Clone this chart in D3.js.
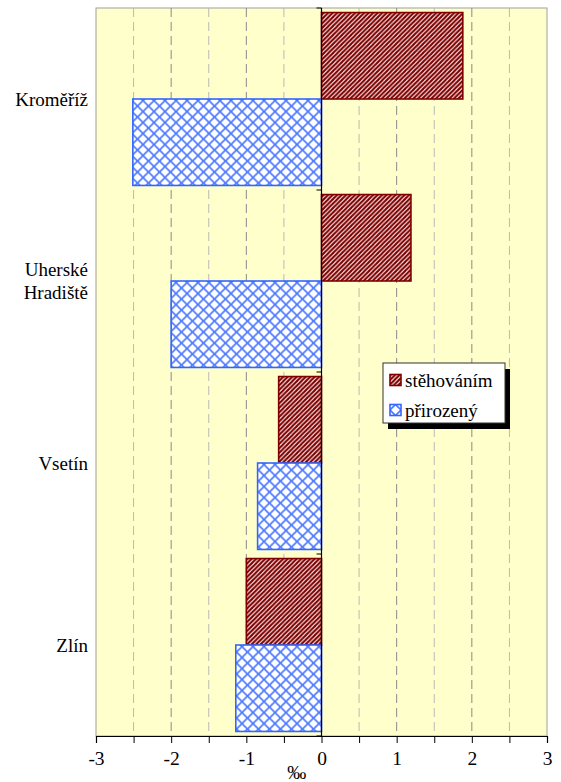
<!DOCTYPE html>
<html>
<head>
<meta charset="utf-8">
<script src="https://cdn.jsdelivr.net/npm/d3@7"></script>
<style>
  body { margin: 0; background: #fff; }
  svg { display: block; }
  svg text { font-family: "Liberation Serif", "Tinos", "DejaVu Serif", "Noto Serif", serif !important; fill: #000; }
</style>
</head>
<body>
<svg id="chart" width="561" height="782"></svg>
<script>
// data
const categories = ["Kroměříž", "Uherské Hradiště", "Vsetín", "Zlín"];
const seriesNames = ["stěhováním", "přirozený"];
const stehovanim = [1.88, 1.19, -0.57, -1.0];
const prirozeny = [-2.51, -2.0, -0.85, -1.14];
const xTicks = [-3, -2, -1, 0, 1, 2, 3];
const unitLabel = "‰";

const width = 561, height = 782;
const margin = { top: 8, right: 14, bottom: 46, left: 96 };
const serif = "'Liberation Serif', 'Tinos', 'DejaVu Serif', serif";

let svg = d3.select("#chart");
let defs = svg.append("defs");

// wide upward diagonal for stěhováním
let p1 = defs
  .append("pattern")
  .attr("id", "stripes")
  .attr("patternUnits", "userSpaceOnUse")
  .attr("width", 4.5)
  .attr("height", 4.5);
p1.append("rect").attr("width", 4.5).attr("height", 4.5).attr("fill", "#fff");
p1.append("path")
  .attr("d", "M-1,1 L1,-1 M0,4.5 L4.5,0 M3.5,5.5 L5.5,3.5")
  .attr("stroke", "#800000")
  .attr("stroke-width", 2.1);

// diagonal lattice for přirozený
let p2 = defs
  .append("pattern")
  .attr("id", "lattice")
  .attr("patternUnits", "userSpaceOnUse")
  .attr("width", 11)
  .attr("height", 11);
p2.append("rect").attr("width", 11).attr("height", 11).attr("fill", "#fff");
p2.append("path")
  .attr("d", "M0,0 L11,11 M11,0 L0,11")
  .attr("stroke", "#4d79ff")
  .attr("stroke-width", 1.6);

const fills = ["url(#stripes)", "url(#lattice)"];
const strokes = ["#800000", "#3366ff"];

let x = d3
  .scaleLinear()
  .domain([-3, 3])
  .range([margin.left, width - margin.right]);

let y = d3
  .scaleBand()
  .domain(categories)
  .range([margin.top, height - margin.bottom])
  .paddingInner(0.05)
  .paddingOuter(0.025);

let ySub = d3
  .scaleBand()
  .domain(seriesNames)
  .range([0, y.bandwidth()]);

// plot background
svg
  .append("rect")
  .attr("x", x(-3))
  .attr("y", margin.top)
  .attr("width", x(3) - x(-3))
  .attr("height", height - margin.bottom - margin.top)
  .attr("fill", "#ffffcc")
  .attr("stroke", "#a0a0a0")
  .attr("stroke-width", 1);

// dashed gridlines every 0.5
let gridVals = d3.range(-2.5, 3, 0.5).filter(function (v) {
  return v !== 0;
});
svg
  .append("g")
  .selectAll("line")
  .data(gridVals)
  .enter()
  .append("line")
  .attr("x1", function (d) { return x(d); })
  .attr("x2", function (d) { return x(d); })
  .attr("y1", margin.top)
  .attr("y2", height - margin.bottom)
  .attr("stroke", function (d) {
    return Number.isInteger(d) ? "#8a8a8a" : "#b8b8b8";
  })
  .attr("stroke-width", 1)
  .attr("stroke-dasharray", "9,5");

// bars
let rows = categories.map(function (c, i) {
  return { cat: c, values: [stehovanim[i], prirozeny[i]] };
});

let groups = svg
  .append("g")
  .selectAll("g")
  .data(rows)
  .enter()
  .append("g")
  .attr("transform", function (d) {
    return "translate(0," + y(d.cat) + ")";
  });

groups
  .selectAll("rect")
  .data(function (d) {
    return d.values.map(function (v, j) {
      return { name: seriesNames[j], value: v, j: j };
    });
  })
  .enter()
  .append("rect")
  .attr("x", function (d) { return x(Math.min(0, d.value)); })
  .attr("y", function (d) { return ySub(d.name); })
  .attr("width", function (d) { return Math.abs(x(d.value) - x(0)); })
  .attr("height", ySub.bandwidth())
  .attr("fill", function (d) { return fills[d.j]; })
  .attr("stroke", function (d) { return strokes[d.j]; })
  .attr("stroke-width", 1.6);

// category axis at zero
let catAxis = svg.append("g");
catAxis
  .append("line")
  .attr("x1", x(0))
  .attr("x2", x(0))
  .attr("y1", margin.top)
  .attr("y2", height - margin.bottom)
  .attr("stroke", "#000")
  .attr("stroke-width", 1.2);
let bounds = categories.map(function (c) {
  return y(c) - y.step() * y.paddingInner() / 2;
});
bounds.push(height - margin.bottom);
catAxis
  .selectAll("line.tick")
  .data(bounds)
  .enter()
  .append("line")
  .attr("class", "tick")
  .attr("x1", x(0) - 5)
  .attr("x2", x(0))
  .attr("y1", function (d) { return d; })
  .attr("y2", function (d) { return d; })
  .attr("stroke", "#000");

// category labels on the left
let labels = svg
  .append("g")
  .selectAll("text")
  .data(categories)
  .enter()
  .append("text")
  .attr("text-anchor", "end")
  .attr("font-family", serif)
  .style("font-size", "19px")
  .attr("y", function (d) { return y(d) + y.bandwidth() / 2; });
labels.each(function (d) {
  let words = d.split(" ");
  let t = d3.select(this);
  words.forEach(function (w, k) {
    t.append("tspan")
      .attr("x", 88)
      .attr("dy", k === 0 ? (0.35 - (words.length - 1) * 0.6) + "em" : "1.2em")
      .text(w);
  });
});

// value axis at bottom
let xAxis = d3
  .axisBottom(x)
  .tickValues(d3.range(-3, 3.5, 0.5))
  .tickSize(7)
  .tickFormat(function (d) {
    return xTicks.indexOf(d) >= 0 ? d : "";
  });
let xg = svg
  .append("g")
  .attr("transform", "translate(0," + (height - margin.bottom) + ")")
  .call(xAxis)
  .attr("font-family", serif);
xg.select(".domain").attr("stroke", "#000").attr("stroke-width", 1.2);
xg.selectAll(".tick line").attr("stroke", "#000");
xg.selectAll(".tick text")
  .style("font-size", "19.5px")
  .attr("fill", "#000")
  .attr("y", 15);

svg
  .append("text")
  .attr("x", x(-0.33))
  .attr("y", height - 3)
  .attr("text-anchor", "middle")
  .attr("font-family", serif)
  .style("font-size", "19px")
  .text(unitLabel);

// legend
let lg = svg.append("g").attr("transform", "translate(383,363)");
lg.append("rect")
  .attr("x", 5)
  .attr("y", 6)
  .attr("width", 122)
  .attr("height", 60)
  .attr("fill", "#000");
lg.append("rect")
  .attr("width", 122)
  .attr("height", 60)
  .attr("fill", "#fff")
  .attr("stroke", "#333")
  .attr("stroke-width", 1);
let items = lg
  .selectAll("g.item")
  .data(seriesNames)
  .enter()
  .append("g")
  .attr("class", "item")
  .attr("transform", function (d, i) {
    return "translate(7," + (17 + i * 30) + ")";
  });
items
  .append("rect")
  .attr("x", 0)
  .attr("y", -5.5)
  .attr("width", 11)
  .attr("height", 11)
  .attr("fill", function (d, i) { return fills[i]; })
  .attr("stroke", function (d, i) { return strokes[i]; })
  .attr("stroke-width", 1.6);
items
  .append("text")
  .attr("x", 15)
  .attr("dy", "0.35em")
  .attr("font-family", serif)
  .style("font-size", "19px")
  .text(function (d) { return d; });
</script>
</body>
</html>
